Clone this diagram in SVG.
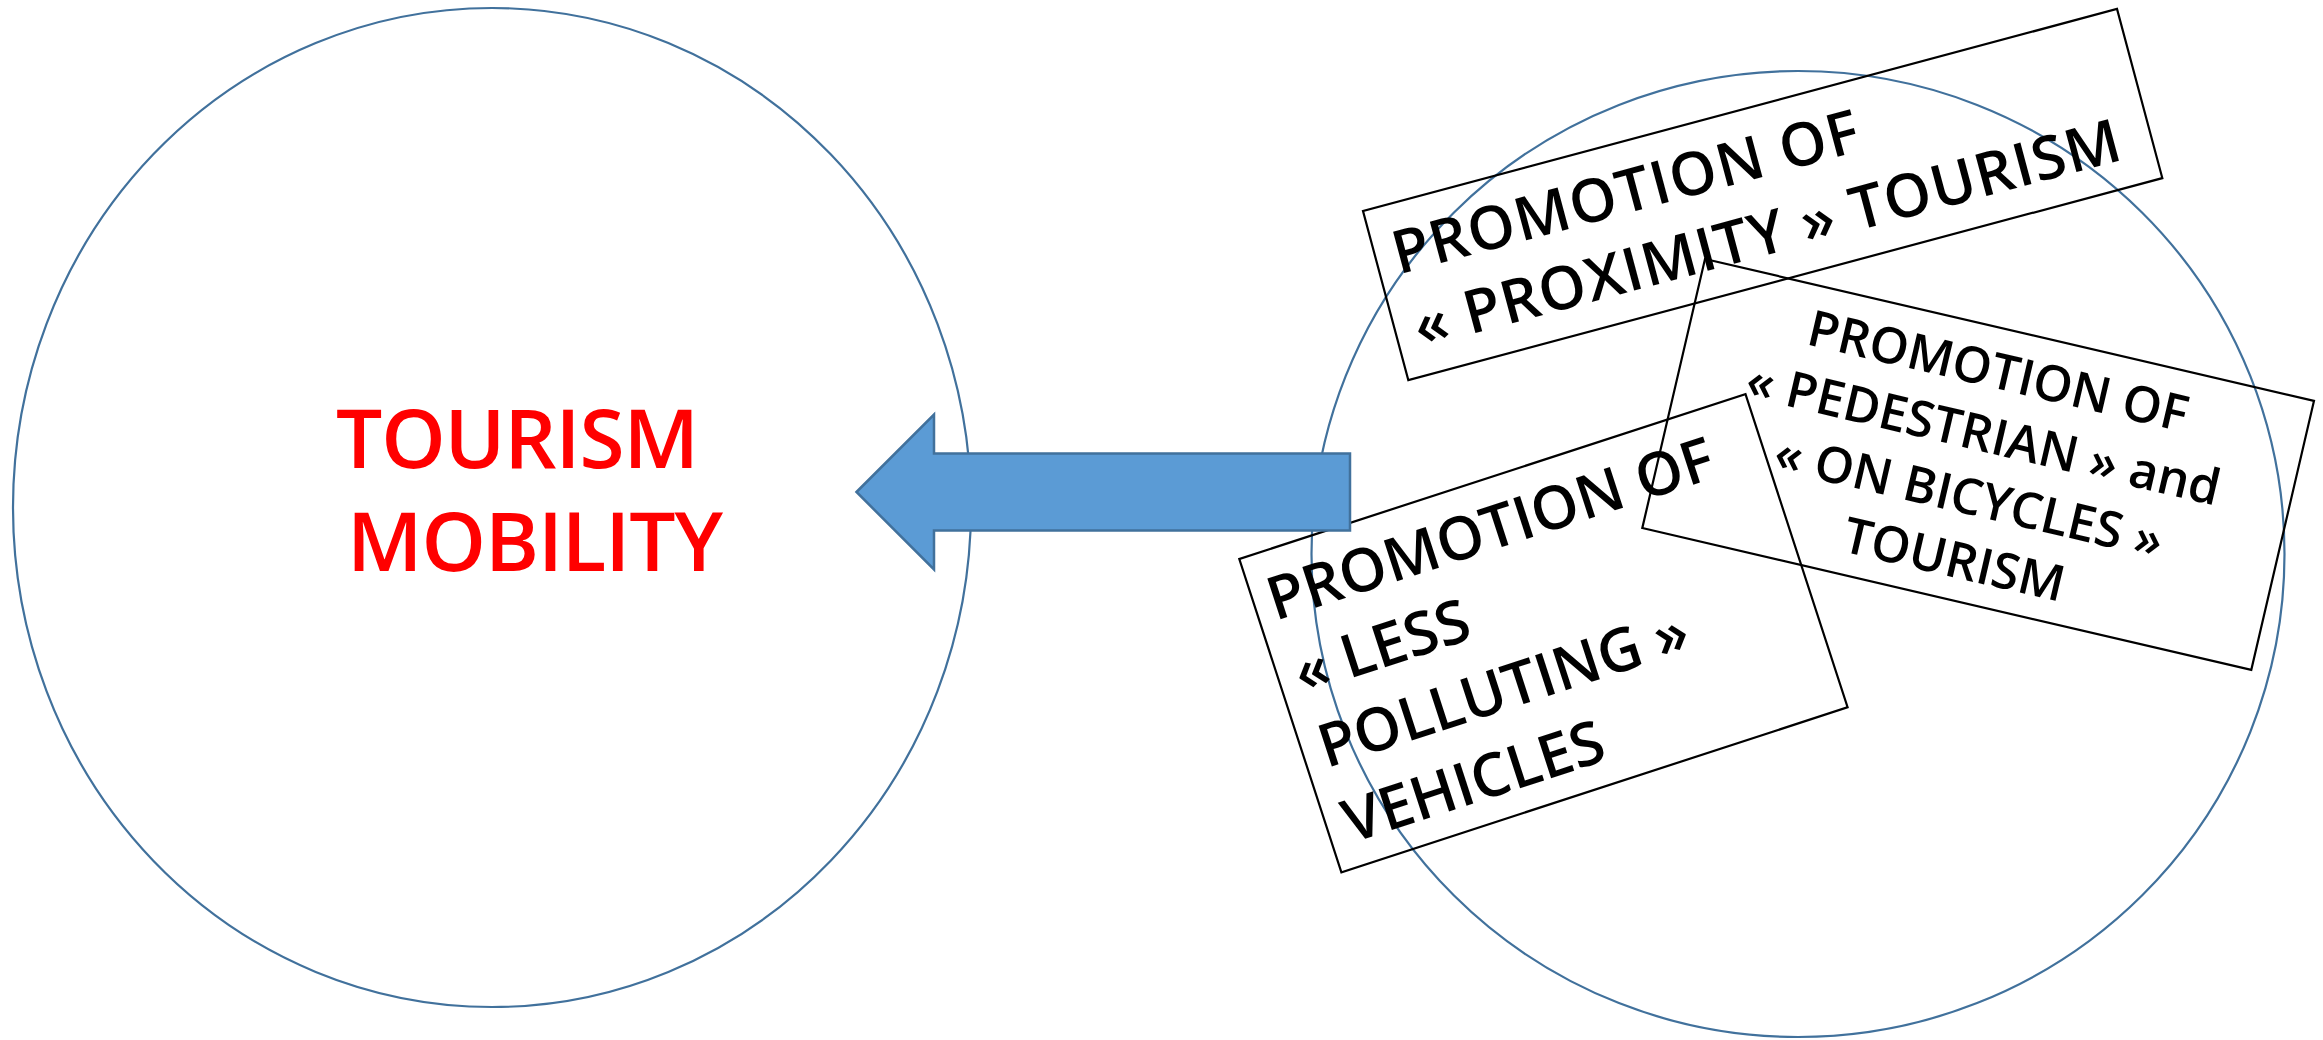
<svg xmlns="http://www.w3.org/2000/svg" width="2323" height="1040" viewBox="0 0 2323 1040">
  <style>
    .circle { fill: none; stroke: #41719C; stroke-width: 2.2; }
    .box { fill: none; stroke: #000000; stroke-width: 2.2; }
    .t { font-family: "Open Sans", "Noto Sans", "DejaVu Sans", sans-serif; font-weight: 600; fill: #000000; }
    .red { font-family: "Open Sans", "Noto Sans", "DejaVu Sans", sans-serif; font-weight: 600; fill: #FF0000; font-size: 82px; }
    .arrow { fill: #5B9BD5; stroke: #41719C; stroke-width: 2.5; }
  </style>
  <rect x="0" y="0" width="2323" height="1040" fill="#FFFFFF"/>

  <g id="node-tourism-mobility">
    <ellipse class="circle" cx="492" cy="507.5" rx="479" ry="499.5"/>
    <text class="red" x="336" y="468.3" textLength="363">TOURISM</text>
    <text class="red" x="347" y="570.7" textLength="376">MOBILITY</text>
  </g>

  <g id="node-promotions">
    <ellipse class="circle" cx="1798" cy="554" rx="486.5" ry="483"/>
  </g>

  <g id="node-proximity" transform="translate(1363,211) rotate(-15)">
    <rect class="box" x="0" y="0" width="780.6" height="175.1"/>
    <text class="t" font-size="60" x="18" y="70.5" textLength="481">PROMOTION OF</text>
    <text class="t" font-size="60" x="20" y="147" textLength="729">« PROXIMITY » TOURISM</text>
  </g>

  <g id="node-pedestrian" transform="translate(1705,259) rotate(13.12)">
    <rect class="box" x="0" y="0" width="625.3" height="276.2"/>
    <g class="t" font-size="50" text-anchor="middle">
      <text x="311" y="60">PROMOTION OF</text>
      <text x="311" y="124.5">« PEDESTRIAN » and</text>
      <text x="311" y="189">« ON BICYCLES »</text>
      <text x="311" y="253.5">TOURISM</text>
    </g>
  </g>

  <g id="node-less-polluting" transform="translate(1239.3,559) rotate(-18.05)">
    <rect class="box" x="0" y="0" width="532.4" height="329.5"/>
    <g class="t" font-size="60">
      <text x="15" y="70">PROMOTION OF</text>
      <text x="18" y="148">« LESS</text>
      <text x="18" y="226">POLLUTING »</text>
      <text x="18" y="305">VEHICLES</text>
    </g>
  </g>

  <g id="connectors">
    <path class="arrow" d="M856.5,492 L934,414.5 L934,453.5 L1350,453.5 L1350,530.5 L934,530.5 L934,569.5 Z"/>
  </g>
</svg>
